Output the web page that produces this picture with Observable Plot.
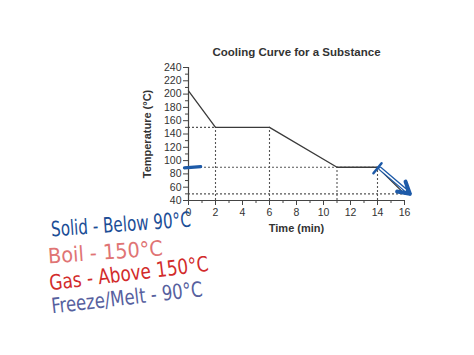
<!DOCTYPE html>
<html>
<head>
<meta charset="utf-8">
<script src="https://cdn.jsdelivr.net/npm/d3@7"></script>
<script src="https://cdn.jsdelivr.net/npm/@observablehq/plot@0.6"></script>
<style>
  html, body { margin: 0; padding: 0; background: #fff; }
  #chart svg { display: block; }
</style>
</head>
<body>
<div id="chart"></div>
<script>
// ---- data ----
const titleText = "Cooling Curve for a Substance";
const xLabel = "Time (min)";
const yLabel = "Temperature (°C)";
const times = [0, 2, 6, 11, 14, 16];
const temps = [205, 150, 150, 90, 90, 50];
const xTickLabels = [0, 2, 4, 6, 8, 10, 12, 14, 16];
const xMinorTicks = [1, 3, 5, 7, 9, 11, 13, 15];
const yTickLabels = [40, 60, 80, 100, 120, 140, 160, 180, 200, 220, 240];
const yMinorTicks = [50, 70, 90, 110, 130, 150, 170, 190, 210, 230];
// dotted guide lines
const guideH = [{y: 150, x1: 0, x2: 2}, {y: 90, x1: 0, x2: 14}, {y: 50, x1: 0, x2: 16}];
const guideV = [{x: 2, y1: 40, y2: 150}, {x: 6, y1: 40, y2: 150}, {x: 11, y1: 40, y2: 90}, {x: 14, y1: 40, y2: 90}];
// handwritten annotations
const penAxisMark = [{x1: -0.3, y1: 89, x2: 0.9, y2: 91}];
const penSlash = [{x1: 13.7, y1: 81, x2: 14.3, y2: 96}];
const penArrow = [{x1: 14.2, y1: 88, x2: 16.4, y2: 50}];
const notes = ["Solid - Below 90°C", "Boil - 150°C", "Gas - Above 150°C", "Freeze/Melt - 90°C"];

const line = times.map((t, i) => ({t, v: temps[i]}));
const hand = "'Liberation Sans Narrow', 'DejaVu Sans Condensed', sans-serif";
const ink = "#444";
const blue = "#1d5aa8";

const plot = Plot.plot({
  width: 474,
  height: 355,
  marginLeft: 188,
  marginRight: 70,
  marginTop: 67,
  marginBottom: 155,
  style: {fontFamily: "'Liberation Sans', Arial, sans-serif", background: "#fff", overflow: "visible"},
  x: {domain: [0, 16], axis: null},
  y: {domain: [40, 240], axis: null},
  marks: [
    // dotted guides
    Plot.ruleY(guideH, {y: "y", x1: "x1", x2: "x2", stroke: "#555", strokeWidth: 1.1, strokeDasharray: "2,2"}),
    Plot.ruleX(guideV, {x: "x", y1: "y1", y2: "y2", stroke: "#555", strokeWidth: 1.1, strokeDasharray: "2,2"}),
    // axes
    Plot.ruleX([0], {y1: 40, y2: 240, stroke: ink, strokeWidth: 1.2}),
    Plot.ruleY([40], {x1: 0, x2: 16, stroke: ink, strokeWidth: 1.2}),
    Plot.axisY({ticks: yMinorTicks, text: null, tickSize: 3, stroke: ink}),
    Plot.axisY({ticks: yTickLabels, tickSize: 5, tickPadding: 2, fontSize: 10.5, fill: "#333", stroke: ink, label: null}),
    Plot.axisX({ticks: xMinorTicks, text: null, tickSize: 3, stroke: ink}),
    Plot.axisX({ticks: xTickLabels, tickSize: 5, tickPadding: 3, fontSize: 10.5, fill: "#333", stroke: ink, label: null}),
    // cooling curve
    Plot.line(line, {x: "t", y: "v", stroke: "#3a3a3a", strokeWidth: 1.3}),
    // titles
    Plot.text([titleText], {frameAnchor: "top", dy: -20, fontSize: 11.5, fontWeight: "bold", fill: "#333"}),
    Plot.text([xLabel], {frameAnchor: "bottom", dy: 31, fontSize: 11, fontWeight: "bold", fill: "#333"}),
    Plot.text([yLabel], {frameAnchor: "left", dx: -41, rotate: -90, textAnchor: "middle", fontSize: 11, fontWeight: "bold", fill: "#333"}),
    // pen marks
    Plot.link(penAxisMark, {x1: "x1", y1: "y1", x2: "x2", y2: "y2", stroke: blue, strokeWidth: 3.2, strokeLinecap: "round"}),
    Plot.link(penSlash, {x1: "x1", y1: "y1", x2: "x2", y2: "y2", stroke: blue, strokeWidth: 2.5, strokeLinecap: "round"}),
    Plot.arrow(penArrow, {x1: "x1", y1: "y1", x2: "x2", y2: "y2", stroke: blue, strokeWidth: 4, headLength: 12, bend: 0}),
    Plot.arrow(penArrow, {x1: "x1", y1: "y1", x2: "x2", y2: "y2", stroke: "#fff", strokeWidth: 1.5, headLength: 0, insetEnd: 6, bend: 0}),
    // handwritten notes
    Plot.text([notes[0]], {frameAnchor: "top-left", dx: -138, dy: 154, textAnchor: "start", rotate: -4, fontSize: 21, fill: "#1b4d96", fontFamily: hand}),
    Plot.text([notes[1]], {frameAnchor: "top-left", dx: -141, dy: 181, textAnchor: "start", rotate: -4, fontSize: 21, fill: "#e07474", fontFamily: hand}),
    Plot.text([notes[2]], {frameAnchor: "top-left", dx: -140, dy: 208, textAnchor: "start", rotate: -7, fontSize: 21, fill: "#d22b2b", fontFamily: hand}),
    Plot.text([notes[3]], {frameAnchor: "top-left", dx: -138, dy: 231, textAnchor: "start", rotate: -6.5, fontSize: 21, fill: "#56609e", fontFamily: hand})
  ]
});

// fit handwritten note widths
const noteWidths = [140, 115, 160, 152];
d3.select(plot).selectAll("text").each(function() {
  const i = notes.indexOf(this.textContent);
  if (i >= 0) {
    this.setAttribute("textLength", noteWidths[i]);
    this.setAttribute("lengthAdjust", "spacingAndGlyphs");
  }
});
document.getElementById("chart").appendChild(plot);
</script>
</body>
</html>
